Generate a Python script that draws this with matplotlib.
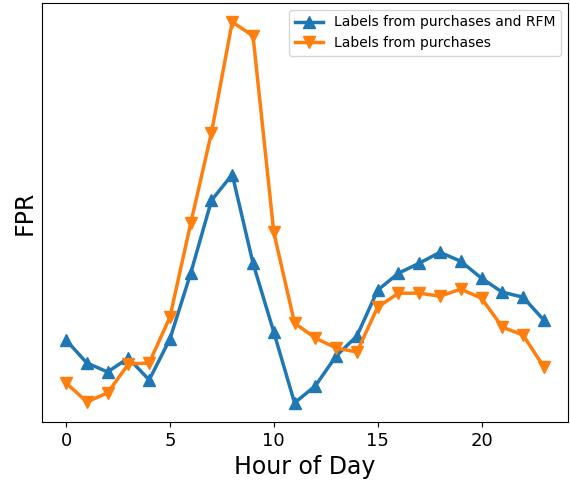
import numpy as np
import matplotlib.pyplot as plt

hours = np.arange(24)

# FPR per hour (arbitrary units)
fpr_rfm = [0.082, 0.059, 0.050, 0.064, 0.042, 0.083, 0.149, 0.222, 0.248, 0.159,
           0.090, 0.019, 0.036, 0.066, 0.086, 0.132, 0.149, 0.159, 0.170, 0.161,
           0.144, 0.130, 0.125, 0.102]
fpr_purch = [0.039, 0.020, 0.029, 0.058, 0.059, 0.105, 0.199, 0.290, 0.401, 0.387,
             0.190, 0.099, 0.084, 0.074, 0.070, 0.115, 0.129, 0.129, 0.126, 0.133,
             0.124, 0.095, 0.087, 0.055]

fig = plt.figure(figsize=(5.7, 4.8), dpi=100)
ax = fig.add_axes([0.074, 0.121, 0.922, 0.873])

ax.plot(hours, fpr_rfm, "-^", color="#1f77b4", lw=2.5, ms=8,
        label="Labels from purchases and RFM")
ax.plot(hours, fpr_purch, "-v", color="#ff7f0e", lw=2.5, ms=8,
        label="Labels from purchases")

ax.set_yticks([])
ax.set_xticks([0, 5, 10, 15, 20])
ax.tick_params(axis="x", labelsize=13)
ax.set_xlabel("Hour of Day", fontsize=17)
ax.set_ylabel("FPR", fontsize=17)
ax.legend(loc="upper right", fontsize=10)

plt.savefig("out.png")
